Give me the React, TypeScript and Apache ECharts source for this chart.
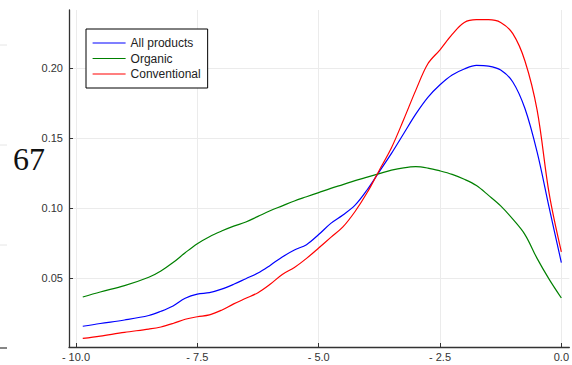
import React, { useEffect, useRef } from "react";
import * as echarts from "echarts";

// Log-ratio grid shared by the three density curves
const xValues = [
  -9.86, -9.5, -9.0, -8.5, -8.25, -8.0, -7.75, -7.5, -7.25, -7.0, -6.75, -6.5,
  -6.25, -6.0, -5.75, -5.5, -5.25, -5.0, -4.75, -4.5, -4.25, -4.0, -3.75, -3.5,
  -3.25, -3.0, -2.75, -2.5, -2.25, -2.0, -1.75, -1.5, -1.25, -1.0, -0.75, -0.5,
  -0.25, 0,
];

const allProducts = [
  0.0155, 0.0175, 0.02, 0.0232, 0.0262, 0.03, 0.0355, 0.0385, 0.0395, 0.042,
  0.0455, 0.0495, 0.0535, 0.059, 0.065, 0.07, 0.0738, 0.081, 0.089, 0.095,
  0.102, 0.113, 0.126, 0.139, 0.153, 0.167, 0.179, 0.188, 0.195, 0.1993,
  0.2018, 0.2013, 0.1985, 0.19, 0.171, 0.14, 0.1, 0.061,
];

const organic = [
  0.0364, 0.04, 0.0445, 0.0505, 0.055, 0.061, 0.068, 0.0745, 0.0795, 0.0835,
  0.087, 0.09, 0.094, 0.098, 0.1015, 0.105, 0.108, 0.111, 0.114, 0.1167,
  0.1195, 0.122, 0.1245, 0.127, 0.1287, 0.1295, 0.1285, 0.1265, 0.124, 0.1205,
  0.116, 0.109, 0.1015, 0.092, 0.081, 0.064, 0.049, 0.0357,
];

const conventional = [
  0.0068, 0.0085, 0.0112, 0.0135, 0.015, 0.0175, 0.0205, 0.0223, 0.0236, 0.027,
  0.0315, 0.0355, 0.0395, 0.0455, 0.0525, 0.0575, 0.064, 0.0714, 0.079, 0.0865,
  0.0975, 0.111, 0.127, 0.143, 0.163, 0.184, 0.203, 0.213, 0.224, 0.2325,
  0.2345, 0.2345, 0.2325, 0.2245, 0.205, 0.17, 0.11, 0.0686,
];

const xTicks = [-10, -7.5, -5, -2.5, 0];
const yTicks = [0.05, 0.1, 0.15, 0.2];

const seriesNames = ["All products", "Organic", "Conventional"];
const seriesColors = ["#0000ff", "#008000", "#ff0000"];

const pair = (ys: number[]) => xValues.map((x, i) => [x, ys[i]]);

const fmtX = (v: number) => {
  const s = Math.abs(v).toFixed(1);
  return v < 0 ? "- " + s : s;
};

export default function App() {
  const ref = useRef<HTMLDivElement>(null);

  useEffect(() => {
    if (!ref.current) return;
    const chart = echarts.init(ref.current, null, { renderer: "svg" });
    const tickFont = {
      fontFamily: "Liberation Sans, Arial, sans-serif",
      fontSize: 11,
      color: "#333333",
    };
    const data = [allProducts, organic, conventional];
    chart.setOption({
      animation: false,
      backgroundColor: "#ffffff",
      grid: { left: 69, right: 0, top: 10, bottom: 18, containLabel: false },
      legend: {
        left: 86,
        top: 29,
        orient: "vertical",
        data: seriesNames,
        itemWidth: 33,
        itemHeight: 11,
        itemGap: 3.5,
        padding: [8, 7, 8, 6],
        borderColor: "#000000",
        borderWidth: 1,
        borderRadius: 0,
        backgroundColor: "#ffffff",
        itemStyle: { opacity: 0 },
        lineStyle: { width: 1.2 },
        textStyle: {
          fontFamily: "Liberation Sans, Arial, sans-serif",
          fontSize: 12,
          color: "#222222",
        },
      },
      xAxis: {
        type: "value",
        min: -10.1434,
        max: 0.1639,
        axisLine: { show: true, onZero: false, lineStyle: { color: "#333333", width: 1.3 } },
        axisTick: { show: true, inside: true, length: 4, customValues: xTicks, lineStyle: { color: "#333333" } },
        axisLabel: { customValues: xTicks, formatter: fmtX, margin: 4, ...tickFont },
        splitLine: { show: true, lineStyle: { color: "#ebebeb", width: 1 } },
      },
      yAxis: {
        type: "value",
        min: 0.0007,
        max: 0.2414,
        axisLine: { show: true, onZero: false, lineStyle: { color: "#333333", width: 1.3 } },
        axisTick: { show: true, inside: true, length: 4, customValues: yTicks, lineStyle: { color: "#333333" } },
        axisLabel: {
          customValues: yTicks,
          formatter: (v: number) => v.toFixed(2),
          margin: 6,
          ...tickFont,
        },
        splitLine: { show: true, lineStyle: { color: "#ebebeb", width: 1 } },
      },
      graphic: [
        { type: "line", shape: { x1: 0, y1: 45, x2: 7, y2: 45 }, style: { stroke: "#e6e6e6", lineWidth: 1 } },
        { type: "line", shape: { x1: 0, y1: 145, x2: 7, y2: 145 }, style: { stroke: "#e6e6e6", lineWidth: 1 } },
        { type: "line", shape: { x1: 0, y1: 245, x2: 7, y2: 245 }, style: { stroke: "#e6e6e6", lineWidth: 1 } },
        { type: "line", shape: { x1: 0, y1: 348, x2: 7, y2: 348 }, style: { stroke: "#444444", lineWidth: 1.3 } },
        {
          type: "text",
          x: 13,
          y: 143,
          style: {
            text: "67",
            font: "32px 'Liberation Serif', 'DejaVu Serif', serif",
            fill: "#111111",
          },
        },
      ],
      series: data.map((ys, i) => ({
        name: seriesNames[i],
        type: "line",
        data: pair(ys),
        smooth: 0.35,
        symbol: "none",
        lineStyle: { color: seriesColors[i], width: 1.2 },
        itemStyle: { color: seriesColors[i] },
      })),
    });
    return () => chart.dispose();
  }, []);

  return (
    <div
      ref={ref}
      style={{ position: "absolute", left: 0, top: 0, width: 572, height: 365 }}
    />
  );
}
